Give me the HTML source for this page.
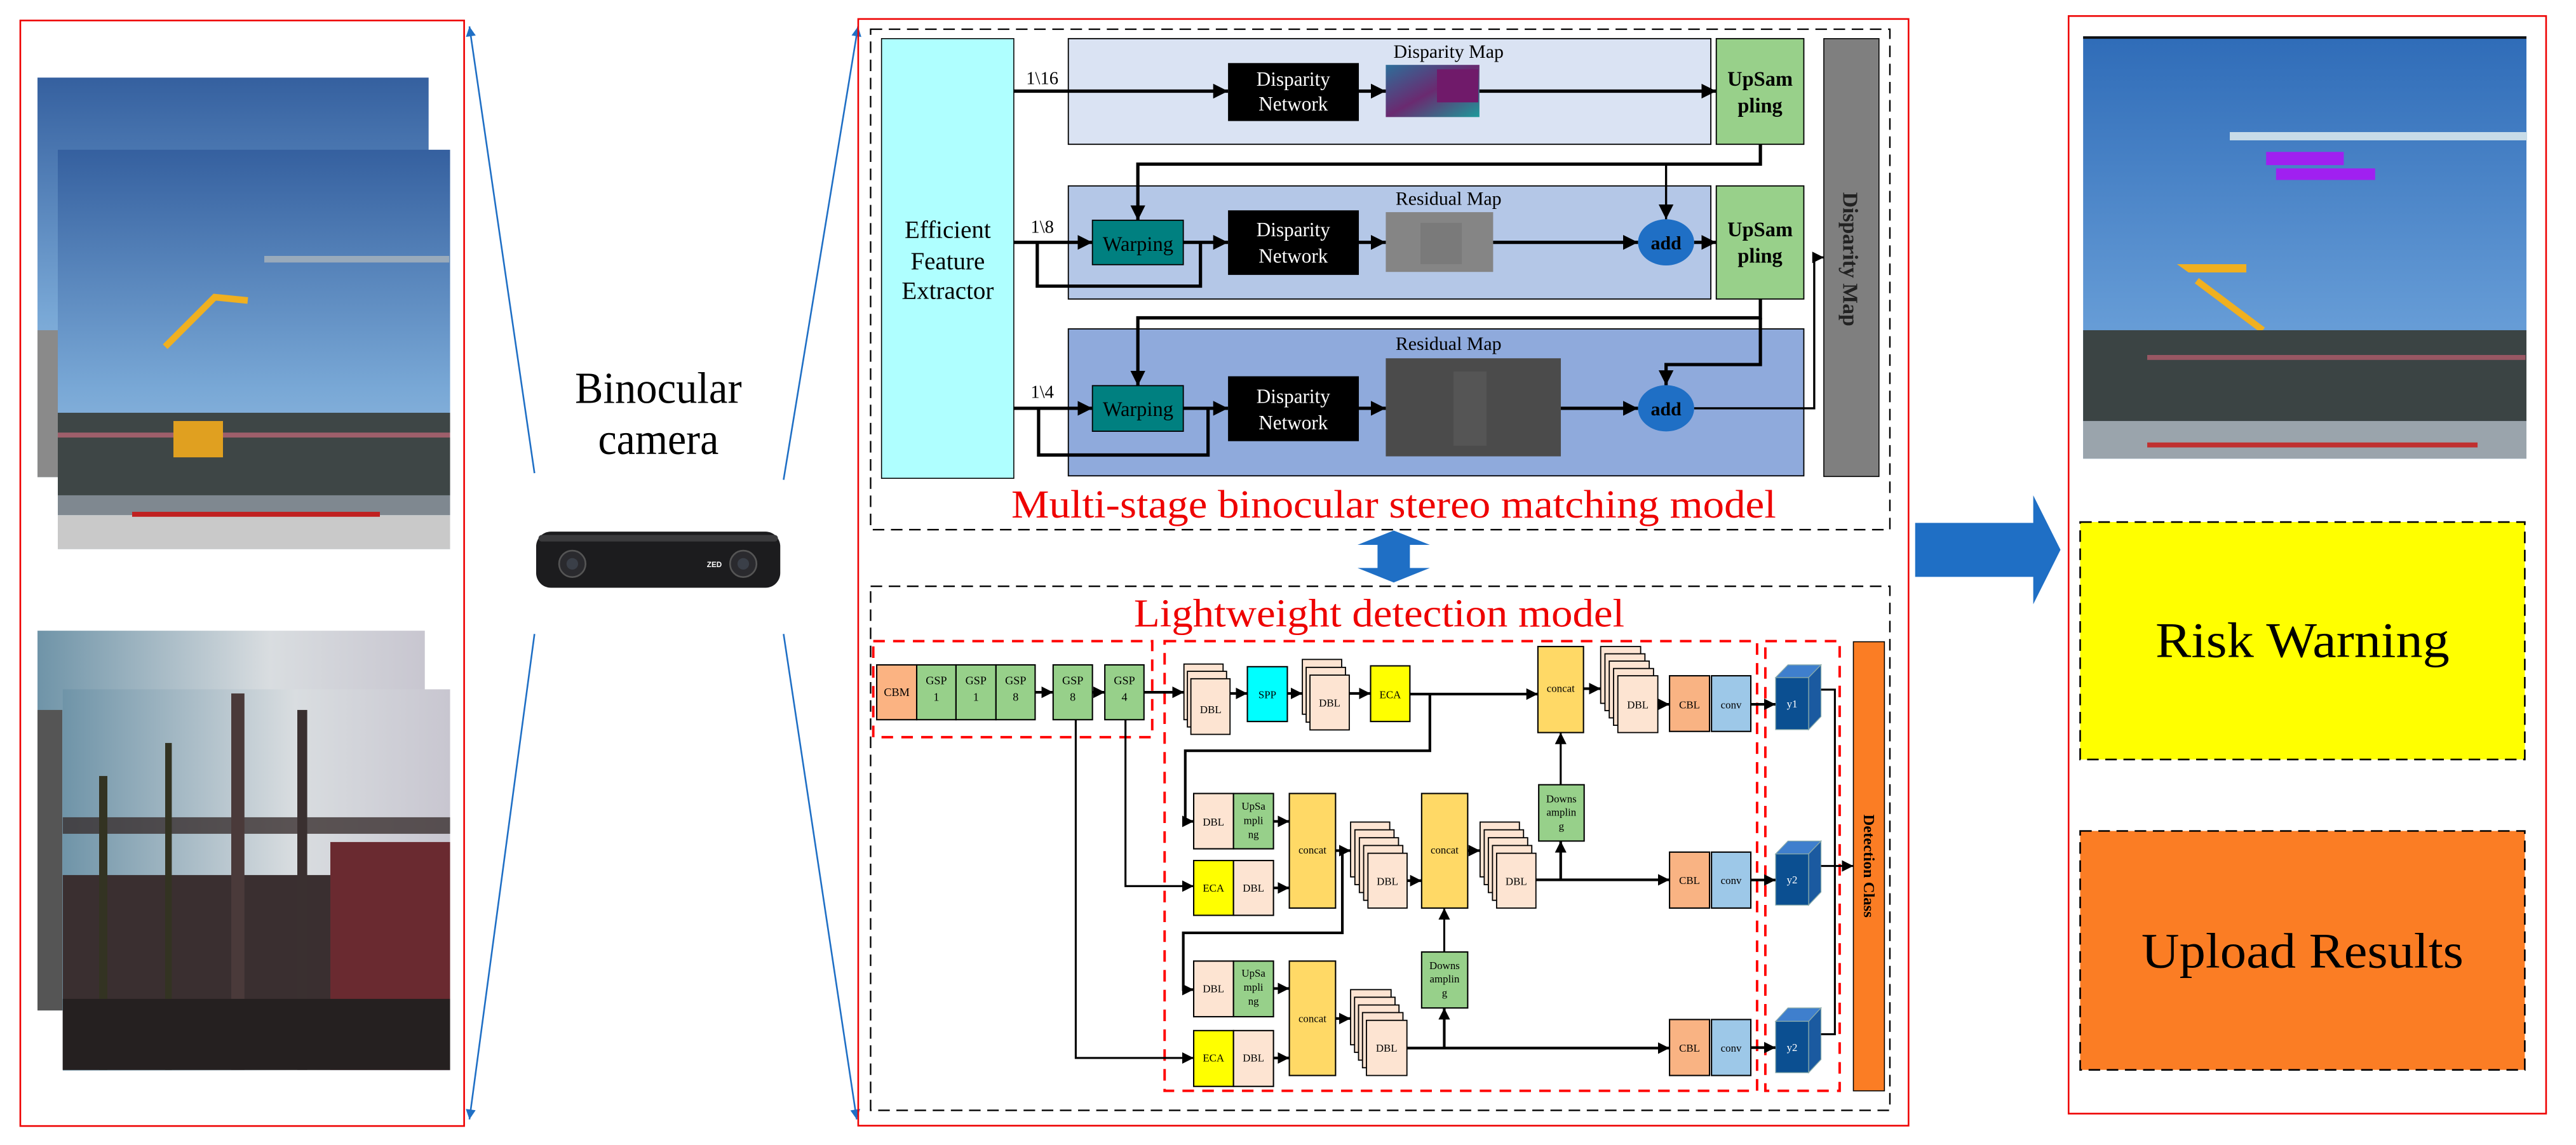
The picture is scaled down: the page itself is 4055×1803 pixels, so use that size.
<!DOCTYPE html>
<html><head><meta charset="utf-8"><style>
html,body{margin:0;padding:0;background:#fff;}
svg{display:block;font-family:"Liberation Serif","DejaVu Serif",serif;}
svg text{font-family:"Liberation Serif","DejaVu Serif",serif !important;}
svg text.sans{font-family:"Liberation Sans",sans-serif !important;}
</style></head><body>
<svg width="4055" height="1803" viewBox="0 0 1559.6 693.5" preserveAspectRatio="none" xmlns="http://www.w3.org/2000/svg" font-family="Liberation Serif, DejaVu Serif, serif">
<defs>
<marker id="a" viewBox="0 0 10 10" refX="10" refY="5" markerWidth="9" markerHeight="9" markerUnits="userSpaceOnUse" orient="auto"><path d="M0,0L10,5L0,10z" fill="#000"/></marker>
<marker id="s" viewBox="0 0 10 10" refX="10" refY="5" markerWidth="7" markerHeight="8" markerUnits="userSpaceOnUse" orient="auto"><path d="M0,0L10,5L0,10z" fill="#000"/></marker>
<marker id="b" viewBox="0 0 10 10" refX="10" refY="5" markerWidth="7" markerHeight="6" markerUnits="userSpaceOnUse" orient="auto"><path d="M0,0L10,5L0,10z" fill="#1f6fc5"/></marker>
<linearGradient id="sky" x1="0" y1="0" x2="0" y2="1"><stop offset="0" stop-color="#35609f"/><stop offset="0.6" stop-color="#79a8d6"/><stop offset="1" stop-color="#a9c8e4"/></linearGradient>
<linearGradient id="sky2" x1="0" y1="0" x2="1" y2="0"><stop offset="0" stop-color="#6f94a8"/><stop offset="0.6" stop-color="#d9dde0"/><stop offset="1" stop-color="#c8c6d0"/></linearGradient>
<linearGradient id="sky3" x1="0" y1="0" x2="0" y2="1"><stop offset="0" stop-color="#2f6cb8"/><stop offset="1" stop-color="#7fb2e4"/></linearGradient>
<linearGradient id="dm1" x1="0" y1="0" x2="1" y2="1"><stop offset="0" stop-color="#2d6f9a"/><stop offset="0.5" stop-color="#6a2a70"/><stop offset="1" stop-color="#1c9a9a"/></linearGradient>
</defs>

<!-- LEFT PANEL -->
<rect x="12.3" y="12.4" width="268.7" height="669.6" fill="none" stroke="#e00" stroke-width="1"/>
<g>
<rect x="22.7" y="47" width="236.8" height="242" fill="url(#sky)"/>
<rect x="22.7" y="200" width="12.3" height="89" fill="#8a8a8a"/>
<rect x="35" y="90.7" width="237.5" height="241.9" fill="url(#sky)"/>
<path d="M100,210 L130,180 L150,182" stroke="#f0b020" stroke-width="4" fill="none"/>
<rect x="160" y="155" width="112" height="4" fill="#9ab"/>
<rect x="35" y="250" width="237.5" height="50" fill="#3e4646"/>
<rect x="35" y="262" width="237.5" height="3" fill="#c86a7a" opacity="0.7"/>
<rect x="35" y="300" width="237.5" height="12" fill="#7f8890"/>
<rect x="35" y="312" width="237.5" height="20.6" fill="#c9c9c9"/>
<rect x="80" y="310" width="150" height="3" fill="#c02020"/>
<rect x="105" y="255" width="30" height="22" fill="#e0a020"/>
</g>
<g>
<rect x="22.7" y="382" width="234.5" height="230" fill="url(#sky2)"/>
<rect x="22.7" y="430" width="15" height="182" fill="#555"/>
<rect x="38" y="417.5" width="234.5" height="230.9" fill="url(#sky2)"/>
<rect x="38" y="495" width="234.5" height="10" fill="#3a3030" opacity="0.8"/>
<rect x="38" y="530" width="234.5" height="118" fill="#3a2f30"/>
<rect x="200" y="510" width="72.5" height="138" fill="#6a2a30"/>
<rect x="180" y="430" width="6" height="218" fill="#3a3030"/>
<rect x="140" y="420" width="8" height="228" fill="#4a3a3a"/>
<rect x="60" y="470" width="5" height="178" fill="#332"/>
<rect x="100" y="450" width="4" height="198" fill="#332"/>
<rect x="38" y="605" width="234.5" height="43" fill="#252020"/>
</g>
<line x1="323.6" y1="286.6" x2="284.2" y2="16" stroke="#1f6fc5" stroke-width="1" marker-end="url(#b)"/>
<line x1="323.6" y1="384" x2="284.2" y2="678" stroke="#1f6fc5" stroke-width="1" marker-end="url(#b)"/>
<line x1="474.4" y1="290.6" x2="519.5" y2="16" stroke="#1f6fc5" stroke-width="1" marker-end="url(#b)"/>
<line x1="474.4" y1="384" x2="518.7" y2="678" stroke="#1f6fc5" stroke-width="1" marker-end="url(#b)"/>
<text x="398.6" y="244" font-size="27" text-anchor="middle" textLength="101" lengthAdjust="spacingAndGlyphs">Binocular</text>
<text x="398.6" y="275" font-size="27" text-anchor="middle" textLength="73" lengthAdjust="spacingAndGlyphs">camera</text>
<rect x="324.6" y="322" width="147.8" height="34" rx="9" fill="#1c1c1e"/>
<rect x="326" y="324" width="145" height="4" rx="2" fill="#3a3a3c"/>
<circle cx="346.5" cy="341.5" r="8" fill="#2a2a2e" stroke="#555" stroke-width="1"/>
<circle cx="346.5" cy="341.5" r="3.5" fill="#3a3f48"/>
<circle cx="450" cy="341.5" r="8" fill="#2a2a2e" stroke="#555" stroke-width="1"/>
<circle cx="450" cy="341.5" r="3.5" fill="#3a3f48"/>
<text class="sans" x="428" y="343.5" font-size="4.5" fill="#fff" font-weight="bold">ZED</text>

<!-- MIDDLE PANEL -->
<rect x="519.6" y="11.5" width="635.9" height="670.3" fill="none" stroke="#e00" stroke-width="1"/>
<rect x="527.1" y="17.7" width="617.1" height="303.1" fill="none" stroke="#000" stroke-width="0.9" stroke-dasharray="7,4"/>

<rect x="533.7" y="23.4" width="80.1" height="266.3" fill="#afffff" stroke="#000" stroke-width="0.6"/>
<text font-size="15" text-anchor="middle"><tspan x="573.8" y="144">Efficient</tspan><tspan x="573.8" y="163">Feature</tspan><tspan x="573.8" y="181">Extractor</tspan></text>

<rect x="646.8" y="23.4" width="389" height="64" fill="#dae3f3" stroke="#000" stroke-width="0.7"/>
<rect x="646.8" y="112.6" width="389" height="68.5" fill="#b4c7e7" stroke="#000" stroke-width="0.7"/>
<rect x="646.8" y="199.2" width="445.3" height="89" fill="#8faadc" stroke="#000" stroke-width="0.7"/>
<rect x="1039.1" y="23.4" width="53" height="64" fill="#98d08a" stroke="#000" stroke-width="0.7"/>
<rect x="1039.1" y="112.6" width="53" height="68.5" fill="#98d08a" stroke="#000" stroke-width="0.7"/>
<rect x="1104.2" y="23.4" width="33.4" height="265.2" fill="#7f7f7f" stroke="#000" stroke-width="0.6"/>
<text transform="translate(1116,157) rotate(90)" font-size="13" font-weight="bold" text-anchor="middle" fill="#222">Disparity Map</text>
<text font-size="12.5" font-weight="bold" text-anchor="middle"><tspan x="1065.6" y="52">UpSam</tspan><tspan x="1065.6" y="68">pling</tspan></text>
<text font-size="12.5" font-weight="bold" text-anchor="middle"><tspan x="1065.6" y="143">UpSam</tspan><tspan x="1065.6" y="159">pling</tspan></text>

<text x="877" y="35" font-size="11.5" text-anchor="middle">Disparity Map</text>
<text x="877" y="124" font-size="11.5" text-anchor="middle">Residual Map</text>
<text x="877" y="212" font-size="11.5" text-anchor="middle">Residual Map</text>

<g fill="#000"><rect x="743.5" y="38.2" width="79.2" height="35.1"/><rect x="743.5" y="127.4" width="79.2" height="39.1"/><rect x="743.5" y="227.9" width="79.2" height="39.3"/></g>
<g fill="#fff" font-size="12" text-anchor="middle"><text x="783" y="52">Disparity</text><text x="783" y="67">Network</text><text x="783" y="143">Disparity</text><text x="783" y="159">Network</text><text x="783" y="244">Disparity</text><text x="783" y="260">Network</text></g>
<rect x="839" y="39.3" width="56.7" height="31.6" fill="url(#dm1)"/>
<rect x="870" y="42" width="25" height="20" fill="#701a6a"/>
<rect x="839" y="128.5" width="65" height="36.2" fill="#858585"/>
<rect x="860" y="135" width="25" height="25" fill="#7a7a7a"/>
<rect x="839" y="217" width="106" height="59.4" fill="#4b4b4b"/>
<rect x="880" y="225" width="20" height="45" fill="#555"/>

<g fill="#008080" stroke="#000" stroke-width="0.7"><rect x="661.4" y="133.4" width="55" height="26.9"/><rect x="661.4" y="233.6" width="55" height="27.6"/></g>
<text x="689" y="152" font-size="12.5" text-anchor="middle">Warping</text>
<text x="689" y="252" font-size="12.5" text-anchor="middle">Warping</text>
<g fill="#1f6fc5"><ellipse cx="1008.7" cy="146.8" rx="17" ry="14"/><ellipse cx="1008.7" cy="247.3" rx="17" ry="14"/></g>
<text x="1008.7" y="151" font-size="11.5" font-weight="bold" text-anchor="middle">add</text>
<text x="1008.7" y="251.5" font-size="11.5" font-weight="bold" text-anchor="middle">add</text>

<g font-size="11" text-anchor="middle"><text x="631" y="51">1\16</text><text x="631" y="141">1\8</text><text x="631" y="241">1\4</text></g>

<g stroke="#000" stroke-width="2" fill="none">
<line x1="613.8" y1="55.2" x2="743.5" y2="55.2" marker-end="url(#a)"/>
<line x1="822.7" y1="55.2" x2="839" y2="55.2" marker-end="url(#a)"/>
<line x1="895.7" y1="55.2" x2="1039.1" y2="55.2" marker-end="url(#a)"/>
<polyline points="1065.8,87.4 1065.8,99.4 688.9,99.4 688.9,133.4" marker-end="url(#a)"/>
<polyline points="1008.7,99.4 1008.7,132.8" stroke-width="1.3" marker-end="url(#a)"/>
<line x1="613.8" y1="146.8" x2="661.4" y2="146.8" marker-end="url(#a)"/>
<polyline points="628,146.8 628,173.3 726.8,173.3 726.8,146.8"/>
<line x1="716.4" y1="146.8" x2="743.5" y2="146.8" marker-end="url(#a)"/>
<line x1="822.7" y1="146.8" x2="839" y2="146.8" marker-end="url(#a)"/>
<line x1="904" y1="146.8" x2="991.7" y2="146.8" marker-end="url(#a)"/>
<line x1="1025.7" y1="146.8" x2="1039.1" y2="146.8" marker-end="url(#a)"/>
<polyline points="1065.8,181.1 1065.8,192.5 688.9,192.5 688.9,233.6" marker-end="url(#a)"/>
<polyline points="1065.8,192.5 1065.8,220.8 1008.7,220.8 1008.7,233.3" marker-end="url(#a)"/>
<line x1="613.8" y1="247.3" x2="661.4" y2="247.3" marker-end="url(#a)"/>
<polyline points="628.8,247.3 628.8,275.6 731.4,275.6 731.4,247.3"/>
<line x1="716.4" y1="247.3" x2="743.5" y2="247.3" marker-end="url(#a)"/>
<line x1="822.7" y1="247.3" x2="839" y2="247.3" marker-end="url(#a)"/>
<line x1="945" y1="247.3" x2="991.7" y2="247.3" marker-end="url(#a)"/>
<polyline points="1025.7,247.3 1098.4,247.3 1098.4,155.9 1104.2,155.9" stroke-width="1.3" marker-end="url(#s)"/>
</g>
<text x="843.8" y="313.5" font-size="24" fill="#e00" text-anchor="middle" textLength="463" lengthAdjust="spacingAndGlyphs">Multi-stage binocular stereo matching model</text>

<path d="M843.8,321.3 L865.7,330 L853.6,330 L853.6,344 L865.7,344 L843.8,352.8 L821.9,344 L834,344 L834,330 L821.9,330 Z" fill="#1f6fc5"/>

<rect x="527.1" y="355.1" width="617.1" height="317.4" fill="none" stroke="#000" stroke-width="0.9" stroke-dasharray="7,4"/>
<text x="835" y="379.4" font-size="24" fill="#e00" text-anchor="middle" textLength="297" lengthAdjust="spacingAndGlyphs">Lightweight detection model</text>
<g fill="none" stroke="#f00" stroke-width="1.5" stroke-dasharray="7,5">
<rect x="528.7" y="388.3" width="168.9" height="58.2"/>
<rect x="705.1" y="388.3" width="358.7" height="272.4"/>
<rect x="1068.8" y="388.3" width="45" height="272.4"/>
</g>
<rect x="1122.1" y="388.7" width="18.8" height="272" fill="#fb7d24" stroke="#000" stroke-width="0.6"/>
<text transform="translate(1128.5,524.5) rotate(90)" font-size="9.5" font-weight="bold" text-anchor="middle">Detection Class</text>

<g stroke="#000" stroke-width="0.8">
<rect x="530.8" y="402.7" width="24.2" height="33.2" fill="#fbb382"/>
<rect x="555" y="402.7" width="23.8" height="33.2" fill="#97d08a"/>
<rect x="578.8" y="402.7" width="24.2" height="33.2" fill="#97d08a"/>
<rect x="603" y="402.7" width="23.7" height="33.2" fill="#97d08a"/>
<rect x="637.6" y="402.7" width="23.8" height="33.2" fill="#97d08a"/>
<rect x="668.9" y="402.7" width="23.7" height="33.2" fill="#97d08a"/>
</g>
<g font-size="7" text-anchor="middle">
<text x="542.9" y="421.5">CBM</text>
<text x="566.9" y="414.5">GSP</text><text x="566.9" y="424.5">1</text>
<text x="590.9" y="414.5">GSP</text><text x="590.9" y="424.5">1</text>
<text x="614.9" y="414.5">GSP</text><text x="614.9" y="424.5">8</text>
<text x="649.5" y="414.5">GSP</text><text x="649.5" y="424.5">8</text>
<text x="680.8" y="414.5">GSP</text><text x="680.8" y="424.5">4</text>
</g>

<g fill="#fde4d2" stroke="#000" stroke-width="0.7">
<rect x="716.8" y="402.2" width="23.7" height="33.7"/><rect x="718.9" y="406.6" width="23.7" height="33.7"/><rect x="721" y="411.1" width="23.7" height="33.7"/>
<rect x="788.5" y="399.4" width="23.8" height="33.2"/><rect x="790.8" y="404.2" width="23.8" height="33.2"/><rect x="793.1" y="408.9" width="23.8" height="33.2"/>
<rect x="969.1" y="391.6" width="24.2" height="34.4"/><rect x="971.7" y="396" width="24.2" height="34.4"/><rect x="974.3" y="400.4" width="24.2" height="34.4"/><rect x="976.9" y="404.9" width="24.2" height="34.4"/><rect x="979.5" y="409.3" width="24.2" height="34.4"/>
<rect x="817.7" y="497.9" width="23.7" height="33.2"/><rect x="820.3" y="502.6" width="23.7" height="33.2"/><rect x="823" y="507.4" width="23.7" height="33.2"/><rect x="825.6" y="512.1" width="23.7" height="33.2"/><rect x="828.2" y="516.8" width="23.7" height="33.2"/>
<rect x="896.1" y="497.9" width="23.8" height="33.2"/><rect x="898.6" y="502.6" width="23.8" height="33.2"/><rect x="901.1" y="507.4" width="23.8" height="33.2"/><rect x="903.6" y="512.1" width="23.8" height="33.2"/><rect x="906.1" y="516.8" width="23.8" height="33.2"/>
<rect x="817.7" y="599.4" width="24.5" height="33.4"/><rect x="820.1" y="604" width="24.5" height="33.4"/><rect x="822.5" y="608.7" width="24.5" height="33.4"/><rect x="824.9" y="613.3" width="24.5" height="33.4"/><rect x="827.3" y="618" width="24.5" height="33.4"/>
</g>
<g stroke="#000" stroke-width="0.8">
<rect x="755.2" y="403.8" width="24.2" height="33.2" fill="#00ffff"/>
<rect x="829.8" y="403.3" width="23.8" height="33.7" fill="#ffff00"/>
<rect x="931.1" y="391.6" width="27.6" height="52.1" fill="#ffd966"/>
<rect x="1010.8" y="409.3" width="24.2" height="33.7" fill="#f9b383"/>
<rect x="1036.2" y="409.3" width="23.8" height="33.7" fill="#9dc8e8"/>
<rect x="722.7" y="480.6" width="24.1" height="33.5" fill="#fde4d2"/>
<rect x="746.8" y="480.6" width="24.2" height="33.5" fill="#97d08a"/>
<rect x="722.7" y="521.2" width="24.1" height="33.2" fill="#ffff00"/>
<rect x="746.8" y="521.2" width="24.2" height="33.2" fill="#fde4d2"/>
<rect x="780.6" y="480.6" width="28" height="69.4" fill="#ffd966"/>
<rect x="860.7" y="480.6" width="27.9" height="69.4" fill="#ffd966"/>
<rect x="931.6" y="475.3" width="27.5" height="34.1" fill="#97d08a"/>
<rect x="1010.8" y="516.1" width="24.2" height="33.9" fill="#f9b383"/>
<rect x="1036.2" y="516.1" width="23.8" height="33.9" fill="#9dc8e8"/>
<rect x="722.7" y="582.1" width="24.1" height="33.7" fill="#fde4d2"/>
<rect x="746.8" y="582.1" width="24.2" height="33.7" fill="#97d08a"/>
<rect x="722.7" y="624.2" width="24.1" height="33.8" fill="#ffff00"/>
<rect x="746.8" y="624.2" width="24.2" height="33.8" fill="#fde4d2"/>
<rect x="780.6" y="582.1" width="28" height="69.3" fill="#ffd966"/>
<rect x="860.7" y="576.6" width="27.9" height="33.9" fill="#97d08a"/>
<rect x="1010.8" y="617.5" width="24.2" height="33.9" fill="#f9b383"/>
<rect x="1036.2" y="617.5" width="23.8" height="33.9" fill="#9dc8e8"/>
</g>
<g stroke="#8aa" stroke-width="0.5">
<path d="M1075,410.4 L1082.5,402.7 L1102.5,402.7 L1095,410.4 Z" fill="#3f7fcd"/><path d="M1095,410.4 L1102.5,402.7 L1102.5,434 L1095,441.9 Z" fill="#1b5aa0"/><rect x="1075" y="410.4" width="20" height="31.5" fill="#0b4f91"/>
<path d="M1075,517.2 L1082.5,509.4 L1102.5,509.4 L1095,517.2 Z" fill="#3f7fcd"/><path d="M1095,517.2 L1102.5,509.4 L1102.5,540.3 L1095,548.2 Z" fill="#1b5aa0"/><rect x="1075" y="517.2" width="20" height="31" fill="#0b4f91"/>
<path d="M1075,618.6 L1082.5,610.5 L1102.5,610.5 L1095,618.6 Z" fill="#3f7fcd"/><path d="M1095,618.6 L1102.5,610.5 L1102.5,641.7 L1095,649.7 Z" fill="#1b5aa0"/><rect x="1075" y="618.6" width="20" height="31.1" fill="#0b4f91"/>
</g>
<g font-size="6.5" text-anchor="middle">
<text x="733" y="432">DBL</text><text x="767.3" y="423">SPP</text><text x="805" y="428">DBL</text><text x="841.7" y="423">ECA</text>
<text x="944.9" y="419">concat</text><text x="991.6" y="429">DBL</text><text x="1022.9" y="429">CBL</text><text x="1048.1" y="429">conv</text>
<text x="734.7" y="500">DBL</text>
<text x="758.9" y="490.5">UpSa</text><text x="758.9" y="499">mpli</text><text x="758.9" y="507.5">ng</text>
<text x="734.7" y="540">ECA</text><text x="758.9" y="540">DBL</text>
<text x="794.6" y="517">concat</text><text x="874.6" y="517">concat</text>
<text x="840" y="536">DBL</text><text x="918" y="536">DBL</text>
<text x="945.3" y="486">Downs</text><text x="945.3" y="494">amplin</text><text x="945.3" y="502.5">g</text>
<text x="1022.9" y="535.5">CBL</text><text x="1048.1" y="535.5">conv</text>
<text x="734.7" y="601">DBL</text>
<text x="758.9" y="591.5">UpSa</text><text x="758.9" y="600">mpli</text><text x="758.9" y="608.5">ng</text>
<text x="734.7" y="643">ECA</text><text x="758.9" y="643">DBL</text>
<text x="794.6" y="619">concat</text><text x="839.5" y="637">DBL</text>
<text x="874.6" y="587">Downs</text><text x="874.6" y="595">amplin</text><text x="874.6" y="603.5">g</text>
<text x="1022.9" y="637">CBL</text><text x="1048.1" y="637">conv</text>
</g>
<g font-size="6.5" text-anchor="middle" fill="#fff"><text x="1085" y="428.5">y1</text><text x="1085" y="535">y2</text><text x="1085" y="636.5">y2</text></g>

<g stroke="#000" stroke-width="1.6" fill="none">
<line x1="626.7" y1="419.3" x2="637.6" y2="419.3" marker-end="url(#s)"/>
<line x1="661.4" y1="419.3" x2="668.9" y2="419.3" marker-end="url(#s)"/>
<line x1="692.6" y1="419.3" x2="716.8" y2="419.3" marker-end="url(#s)"/>
<line x1="744.7" y1="420" x2="755.2" y2="420" marker-end="url(#s)"/>
<line x1="779.4" y1="420" x2="788.5" y2="420" marker-end="url(#s)"/>
<line x1="816.9" y1="420" x2="829.8" y2="420" marker-end="url(#s)"/>
<line x1="853.6" y1="420.4" x2="931.1" y2="420.4" marker-end="url(#s)"/>
<polyline points="865.7,420.4 865.7,454.7 717.6,454.7 717.6,497.5 722.7,497.5" marker-end="url(#s)"/>
<line x1="958.7" y1="417.1" x2="969.1" y2="417.1" marker-end="url(#s)"/>
<line x1="1003.7" y1="426.6" x2="1010.8" y2="426.6" marker-end="url(#s)"/>
<line x1="1060" y1="426.6" x2="1075" y2="426.6" marker-end="url(#s)"/>
<line x1="771" y1="497.5" x2="780.6" y2="497.5" marker-end="url(#s)"/>
<line x1="771" y1="537.8" x2="780.6" y2="537.8" marker-end="url(#s)"/>
<line x1="808.6" y1="515.2" x2="817.7" y2="515.2" marker-end="url(#s)"/>
<polyline points="812.7,515.2 812.7,565 716.4,565 716.4,599.4 722.7,599.4" marker-end="url(#s)"/>
<line x1="851.9" y1="533.4" x2="860.7" y2="533.4" marker-end="url(#s)"/>
<line x1="888.6" y1="515.2" x2="896.1" y2="515.2" marker-end="url(#s)"/>
<line x1="929.9" y1="532.9" x2="1010.8" y2="532.9" marker-end="url(#s)"/>
<line x1="944.9" y1="532.9" x2="944.9" y2="509.4" marker-end="url(#s)"/>
<line x1="944.9" y1="475.3" x2="944.9" y2="443.7" stroke-width="1.2" marker-end="url(#s)"/>
<line x1="1060" y1="533" x2="1075" y2="533" marker-end="url(#s)"/>
<line x1="771" y1="598.7" x2="780.6" y2="598.7" marker-end="url(#s)"/>
<line x1="771" y1="640.8" x2="780.6" y2="640.8" marker-end="url(#s)"/>
<line x1="808.6" y1="616.9" x2="817.7" y2="616.9" marker-end="url(#s)"/>
<line x1="851.9" y1="634.8" x2="1010.8" y2="634.8" marker-end="url(#s)"/>
<line x1="874.4" y1="634.8" x2="874.4" y2="610.5" marker-end="url(#s)"/>
<line x1="874.4" y1="576.6" x2="874.4" y2="550" stroke-width="1.2" marker-end="url(#s)"/>
<line x1="1060" y1="634.5" x2="1075" y2="634.5" marker-end="url(#s)"/>
<polyline points="681.4,435.9 681.4,536.7 722.7,536.7" stroke-width="1.2" marker-end="url(#s)"/>
<polyline points="651.3,435.9 651.3,640.8 722.7,640.8" stroke-width="1.2" marker-end="url(#s)"/>
<polyline points="1102.5,417.7 1110.9,417.7 1110.9,626.4 1102.5,626.4" stroke-width="1.2"/>
<line x1="1102.5" y1="524.5" x2="1122.1" y2="524.5" stroke-width="1.2" marker-end="url(#s)"/>
</g>

<path d="M1159.5,316.7 L1231,316.7 L1231,300 L1247.5,333 L1231,366 L1231,349.4 L1159.5,349.4 Z" fill="#1f6fc5"/>

<!-- RIGHT PANEL -->
<rect x="1252.4" y="9.7" width="289.1" height="664.8" fill="none" stroke="#e00" stroke-width="1"/>
<rect x="1261.2" y="22" width="268.4" height="255.8" fill="url(#sky3)"/>
<rect x="1261.2" y="22" width="268.4" height="1.5" fill="#111"/>
<rect x="1350" y="80" width="180" height="5" fill="#c8dce8"/>
<rect x="1372" y="92" width="47" height="8" fill="#a020f0"/>
<rect x="1378" y="102" width="60" height="7" fill="#a020f0"/>
<path d="M1318,160 L1360,160 L1360,165 L1325,165 Z" fill="#f0b020"/>
<path d="M1330,170 L1370,200" stroke="#f0b020" stroke-width="4"/>
<rect x="1280" y="200" width="30" height="20" fill="#e0a020"/>
<rect x="1261.2" y="200" width="268.4" height="55" fill="#3b4444"/>
<rect x="1300" y="215" width="229" height="3" fill="#c06070" opacity="0.7"/>
<rect x="1261.2" y="255" width="268.4" height="22.8" fill="#9aa4ac"/>
<rect x="1300" y="268" width="200" height="3" fill="#c03030"/>
<rect x="1259.4" y="316.2" width="269.2" height="143.8" fill="#ffff00" stroke="#000" stroke-width="1" stroke-dasharray="7,4"/>
<rect x="1259.4" y="503.3" width="269.2" height="144.7" fill="#fb7d24" stroke="#000" stroke-width="1" stroke-dasharray="7,4"/>
<text x="1394" y="398" font-size="30" text-anchor="middle" textLength="178" lengthAdjust="spacingAndGlyphs">Risk Warning</text>
<text x="1394" y="586" font-size="30" text-anchor="middle" textLength="195" lengthAdjust="spacingAndGlyphs">Upload Results</text>
</svg>
</body></html>
